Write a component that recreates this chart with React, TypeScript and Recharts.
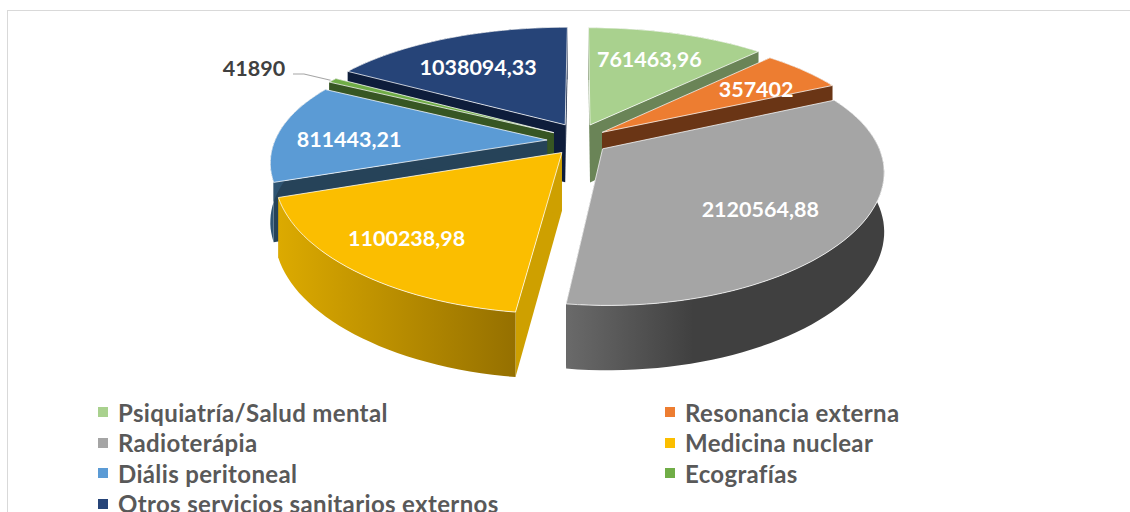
import { PieChart, Pie, Legend } from 'recharts'

const categories = [
  'Psiquiatría/Salud mental',
  'Resonancia externa',
  'Radioterápia',
  'Medicina nuclear',
  'Diális peritoneal',
  'Ecografías',
  'Otros servicios sanitarios externos',
]
const values = [761463.96, 357402, 2120564.88, 1100238.98, 811443.21, 41890, 1038094.33]

const topColors = ['#A9D18E', '#ED7D31', '#A5A5A5', '#FBBE00', '#5B9BD5', '#70AD47', '#264478']
const sideColors = ['#6A8457', '#6A3515', '#404040', '#CEA000', '#264359', '#375623', '#0E1D3B']
// outer wall shading, left to right
const wallStops = [
  ['#6A8457', '#6A8457'],
  ['#6A3515', '#6A3515'],
  ['#6A6A6A', '#404040'],
  ['#DCAA00', '#957000'],
  ['#2F5675', '#264359'],
  ['#375623', '#375623'],
  ['#0E1D3B', '#0E1D3B'],
]

// far slices first, the near ones paint over them
const paintOrder = [0, 6, 1, 5, 4, 2, 3]

// screen shift of each slice on top of the explosion
const sliceShift = [
  [4, -2],
  [3, 1],
  [3, 2],
  [6, 3],
  [2, 2],
  [5, 0],
  [5, -3],
]
const sliceScale = [1, 1, 0.985, 1, 0.98, 1, 1]
const labelShift = [
  [-1, -2],
  [17, 0],
  [-5, 8],
  [-25, 13],
  [-17, 5],
  [0, 0],
  [-6, 3],
]

const EXPLODE = 30
const SQUASH = 0.44
const PERSP_X = 0.17
const PERSP_Y = 0.21
const DEPTH = 58

const data = categories.map((name, i) => ({ name, value: values[i] }))

const rad = (deg: number) => (deg * Math.PI) / 180

// recharts angle (counter clockwise from 3 o'clock) to a point on the tilted disc
function project(cx: number, cy: number, R: number, index: number, midAngle: number, angle: number, r: number) {
  const m = rad(90 - midAngle)
  const t = rad(90 - angle)
  const X = EXPLODE * Math.sin(m) + r * Math.sin(t)
  const Z = EXPLODE * Math.cos(m) + r * Math.cos(t)
  const x = cx + X / (1 + (PERSP_X * Z) / R) + sliceShift[index][0]
  const y = cy - (SQUASH * Z) / (1 + (PERSP_Y * Z) / R) + sliceShift[index][1]
  const drop = DEPTH / (1 + (0.1 * Z) / R)
  return { x, y, drop }
}

const toPath = (pts: { x: number; y: number }[]) =>
  pts.map((p, i) => `${i ? 'L' : 'M'}${p.x.toFixed(1)} ${p.y.toFixed(1)}`).join(' ') + ' Z'

function Slice(props: any) {
  const { cx, cy, outerRadius, startAngle, endAngle, index } = props
  const mid = (startAngle + endAngle) / 2
  const radius = outerRadius * sliceScale[index]
  const pt = (a: number, r: number) => project(cx, cy, outerRadius, index, mid, a, r)

  const arc: { x: number; y: number; drop: number }[] = []
  const steps = Math.max(2, Math.ceil(Math.abs(endAngle - startAngle) / 2))
  for (let s = 0; s <= steps; s++) {
    arc.push(pt(startAngle + ((endAngle - startAngle) * s) / steps, radius))
  }
  const apex = pt(mid, 0)
  const low = (p: { x: number; y: number; drop: number }) => ({ x: p.x, y: p.y + p.drop, drop: 0 })
  const first = arc[0]
  const last = arc[arc.length - 1]
  const gradId = `wall-${index}`
  const edge = { stroke: '#fff', strokeOpacity: 0.75, strokeWidth: 1, strokeLinejoin: 'round' as const }

  return (
    <g>
      <defs>
        <linearGradient id={gradId} x1="0" y1="0" x2="1" y2="0">
          <stop offset="0" stopColor={wallStops[index][0]} />
          <stop offset={index === 2 ? 0.4 : 1} stopColor={wallStops[index][1]} />
        </linearGradient>
      </defs>
      <path d={toPath([apex, first, low(first), low(apex)])} fill={sideColors[index]} />
      <path d={toPath([apex, last, low(last), low(apex)])} fill={sideColors[index]} />
      <path d={toPath([...arc, ...arc.slice().reverse().map(low)])} fill={`url(#${gradId})`} />
      <path d={toPath([apex, ...arc])} fill={topColors[index]} {...edge} />
    </g>
  )
}

const formatValue = (v: number) => String(v).replace('.', ',')

function SliceLabel(props: any) {
  const { cx, cy, outerRadius, midAngle, index } = props
  const p = project(cx, cy, outerRadius, index, midAngle, midAngle, outerRadius * 0.66)
  if (index === 5) {
    const tip = project(cx, cy, outerRadius, index, midAngle, midAngle, outerRadius)
    return (
      <g>
        <polyline
          points={`293,74 304,74 ${tip.x - 2},${tip.y}`}
          fill="none"
          stroke="#A6A6A6"
          strokeWidth={1.2}
        />
        <text x={254} y={68} dy="0.35em" textAnchor="middle" fontFamily="Lato" fontWeight={700} fontSize={21.5} fill="#404040">
          {formatValue(values[index])}
        </text>
      </g>
    )
  }
  return (
    <text
      x={p.x + labelShift[index][0]}
      y={p.y + labelShift[index][1]}
      dy="0.35em"
      textAnchor="middle"
      fontFamily="Lato"
      fontWeight={700}
      fontSize={21.5}
      fill="#fff"
    >
      {formatValue(values[index])}
    </text>
  )
}

function LegendBlock() {
  return (
    <div
      style={{
        display: 'grid',
        gridTemplateColumns: '567px auto',
        gridAutoRows: '30.5px',
        fontFamily: 'Lato',
        fontWeight: 700,
        fontSize: 24,
        letterSpacing: 0.35,
        color: '#595959',
      }}
    >
      {categories.map((name, i) => (
        <div key={name} style={{ display: 'flex', alignItems: 'center', whiteSpace: 'nowrap' }}>
          <span style={{ width: 10, height: 10, background: topColors[i], marginRight: 10 }} />
          {name}
        </div>
      ))}
    </div>
  )
}

export default function App() {
  return (
    <div style={{ position: 'absolute', left: 0, top: 0, width: 1130, height: 512, overflow: 'hidden', background: '#fff' }}>
      {/* chart frame */}
      <div
        style={{
          position: 'absolute',
          left: 7,
          top: 10,
          width: 1140,
          height: 520,
          border: '1.5px solid #D9D9D9',
        }}
      />
      <PieChart
        width={1130}
        height={512}
        margin={{ top: 0, right: 0, bottom: 0, left: 0 }}
        style={{ position: 'absolute', left: 0, top: 0 }}
      >
        {paintOrder.map((idx, layer) => (
          <Pie
            key={idx}
            data={data}
            dataKey="value"
            nameKey="name"
            cx={575}
            cy={139}
            outerRadius={278}
            startAngle={90}
            endAngle={-270}
            stroke="none"
            isAnimationActive={false}
            labelLine={false}
            label={layer === paintOrder.length - 1 ? (p: any) => <SliceLabel {...p} /> : false}
            shape={(p: any) => (p.index === idx ? <Slice {...p} /> : <g />)}
          />
        ))}
        <Legend
          content={() => <LegendBlock />}
          wrapperStyle={{ position: 'absolute', left: 98, top: 397, width: 1000, bottom: 'auto' }}
        />
      </PieChart>
    </div>
  )
}
